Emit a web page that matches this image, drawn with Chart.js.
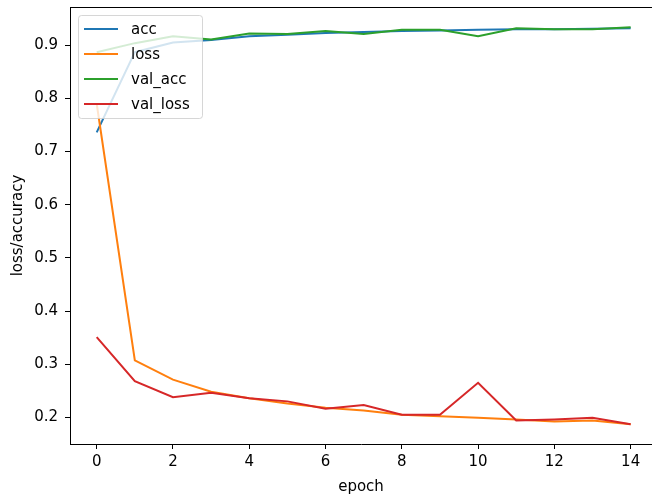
<!DOCTYPE html>
<html>
<head>
<meta charset="utf-8">
<script src="https://cdn.jsdelivr.net/npm/chart.js@4.4.1/dist/chart.umd.min.js"></script>
<style>
  html, body { margin: 0; padding: 0; background: #fff; }
  #wrap { width: 652px; height: 500px; }
</style>
</head>
<body>
<div id="wrap"><canvas id="chart" width="652" height="500"></canvas></div>
<script>
// data
const epochs = [0, 1, 2, 3, 4, 5, 6, 7, 8, 9, 10, 11, 12, 13, 14];
const acc = [0.736, 0.887, 0.905, 0.910, 0.917, 0.920, 0.923, 0.925, 0.927, 0.928, 0.929, 0.930, 0.930, 0.931, 0.932];
const loss = [0.790, 0.307, 0.271, 0.248, 0.236, 0.226, 0.218, 0.213, 0.205, 0.202, 0.199, 0.196, 0.192, 0.194, 0.187];
const valAcc = [0.887, 0.904, 0.917, 0.911, 0.922, 0.921, 0.927, 0.921, 0.929, 0.929, 0.917, 0.932, 0.930, 0.930, 0.934];
const valLoss = [0.351, 0.268, 0.238, 0.246, 0.236, 0.230, 0.216, 0.223, 0.205, 0.205, 0.265, 0.194, 0.196, 0.199, 0.187];

const xTicks = [0, 2, 4, 6, 8, 10, 12, 14];
const yTicks = [0.2, 0.3, 0.4, 0.5, 0.6, 0.7, 0.8, 0.9];

const FONT = "'DejaVu Sans', sans-serif";

function points(values) {
    return epochs.map((e, i) => ({ x: e, y: values[i] }));
}

function line(label, values, color, order) {
    return {
        label: label,
        data: points(values),
        borderColor: color,
        backgroundColor: color,
        borderWidth: 2,
        pointRadius: 0,
        tension: 0,
        fill: false,
        order: order,
    };
}

// matplotlib-like legend box drawn inside the plot, upper left
const innerLegend = {
    id: "innerLegend",
    afterDatasetsDraw(chart) {
        const ctx = chart.ctx;
        const area = chart.chartArea;
        ctx.save();
        // top spine
        ctx.strokeStyle = "#000";
        ctx.lineWidth = 1;
        ctx.beginPath();
        ctx.moveTo(area.left, area.top + 0.5);
        ctx.lineTo(area.right, area.top + 0.5);
        ctx.stroke();

        const bx = 78, by = 15, bw = 124, bh = 103;
        ctx.beginPath();
        ctx.roundRect(bx + 0.5, by + 0.5, bw, bh, 3);
        ctx.fillStyle = "rgba(255,255,255,0.8)";
        ctx.fill();
        ctx.strokeStyle = "rgba(204,204,204,0.8)";
        ctx.stroke();

        ctx.font = "15px " + FONT;
        ctx.textBaseline = "middle";
        ctx.textAlign = "left";
        const items = chart.data.datasets;
        items.forEach((ds, i) => {
            const y = 29 + i * 25;
            ctx.strokeStyle = ds.borderColor;
            ctx.lineWidth = 2;
            ctx.beginPath();
            ctx.moveTo(84, y);
            ctx.lineTo(118, y);
            ctx.stroke();
            ctx.fillStyle = "#000";
            ctx.fillText(ds.label, 131, y + 1);
        });
        ctx.restore();
    },
};

const ctx = document.getElementById("chart").getContext("2d");

new Chart(ctx, {
    type: "line",
    data: {
        datasets: [
            line("acc", acc, "#1f77b4", 4),
            line("loss", loss, "#ff7f0e", 3),
            line("val_acc", valAcc, "#2ca02c", 2),
            line("val_loss", valLoss, "#d62728", 1),
        ],
    },
    options: {
        responsive: false,
        animation: false,
        devicePixelRatio: 1,
        layout: { padding: { top: 7, right: 0, bottom: 0, left: 0 } },
        plugins: {
            legend: { display: false },
            tooltip: { enabled: false },
        },
        scales: {
            x: {
                type: "linear",
                min: -0.7,
                max: 14.56,
                afterBuildTicks: (scale) => {
                    scale.ticks = xTicks.map(v => ({ value: v }));
                },
                afterFit: (scale) => {
                    scale.height = 56;
                    scale.paddingLeft = 0;
                    scale.paddingRight = 0;
                },
                grid: { drawOnChartArea: false, drawTicks: true, tickLength: 5, color: "#000" },
                border: { display: true, color: "#000", width: 1 },
                ticks: {
                    color: "#000",
                    font: { family: FONT, size: 15 },
                    padding: 4,
                    maxRotation: 0,
                    callback: (v) => String(v),
                },
                title: {
                    display: true,
                    text: "epoch",
                    color: "#000",
                    font: { family: FONT, size: 15 },
                    padding: { top: 0, bottom: 4 },
                },
            },
            y: {
                type: "linear",
                min: 0.1498,
                max: 0.972,
                afterBuildTicks: (scale) => {
                    scale.ticks = yTicks.map(v => ({ value: v }));
                },
                afterFit: (scale) => {
                    scale.width = 70;
                    scale.paddingTop = 0;
                    scale.paddingBottom = 0;
                },
                grid: { drawOnChartArea: false, drawTicks: true, tickLength: 5, color: "#000" },
                border: { display: true, color: "#000", width: 1 },
                ticks: {
                    color: "#000",
                    font: { family: FONT, size: 15 },
                    padding: 7,
                    callback: (v) => v.toFixed(1),
                },
                title: {
                    display: true,
                    text: "loss/accuracy",
                    color: "#000",
                    font: { family: FONT, size: 15 },
                    padding: { top: 9, bottom: 0 },
                },
            },
        },
    },
    plugins: [innerLegend],
});
</script>
</body>
</html>
